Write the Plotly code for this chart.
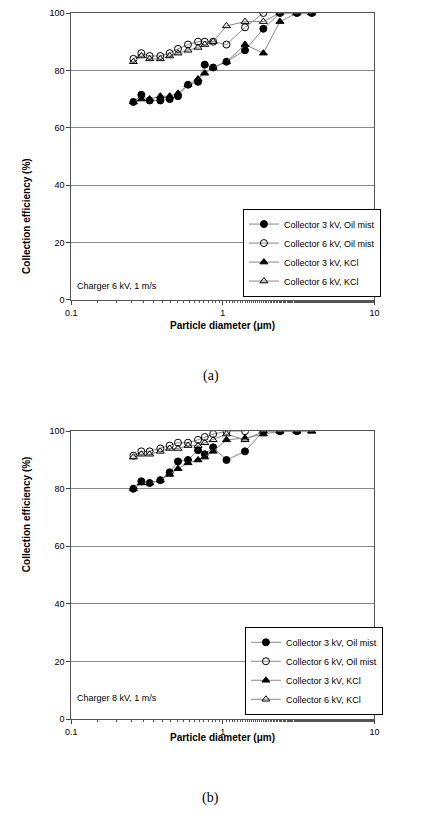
import plotly.graph_objects as go

d = [0.257,0.290,0.329,0.387,0.446,0.506,0.589,0.686,0.760,0.863,1.057,1.40,1.85,2.38,3.08,3.86]

a_oil3 = [69,71.5,69.5,69.5,70,71,75,76,82,81,83,87,94.5,100,100,100]
a_oil6 = [84,86,85,85,86,87.5,89,90,90,90,89,95,100]
a_kcl3 = [69,70,70,71,71,72,75,77,79,81,83,89,86,97,100,100]
a_kcl6 = [83,85,84,84,85,86,87,88,89,90,95.5,97,97,100,100,100]

b_oil3 = [80,82.6,82,83,85.7,89.5,90,93.4,92,94.4,90,93,100,100,100]
b_oil6 = [91.5,93,93,94,95,96,96,97,98,99,100,100]
b_kcl3 = [80,82,82,83,85,87,89,90,91,93,97,97.6,99,100,100,100]
b_kcl6 = [91,92,92,93,94,94,95,95,96,97,99,97,100,100,100,100]

names = ["Collector 3 kV, Oil mist","Collector 6 kV, Oil mist","Collector 3 kV, KCl","Collector 6 kV, KCl"]
syms = ["circle","circle-open","triangle-up","triangle-up-open"]
F = "Liberation Sans, Arial"

def px(t):
    return max(0, min(1, ((t - 15) / 0.97) / 422))
def py(t):
    return max(0, min(1, 1 - ((t - 12) / 0.985) / 824))

fig = go.Figure()
for ax, leg, data in [("", "legend", [a_oil3,a_oil6,a_kcl3,a_kcl6]),
                      ("2", "legend2", [b_oil3,b_oil6,b_kcl3,b_kcl6])]:
    for n, s, y in zip(names, syms, data):
        fig.add_trace(go.Scatter(x=d[:len(y)], y=y, name=n, mode="lines+markers",
            line=dict(color="#888", width=1),
            marker=dict(symbol=s, size=7, color="black", line=dict(color="black", width=1)),
            xaxis="x"+ax, yaxis="y"+ax, legend=leg))

xd = [px(72), px(374)]
common_x = dict(type="log", range=[-1,1], domain=xd, showgrid=False, showline=True, linecolor="#555",
                mirror=True, ticks="outside", tickvals=[0.1,1,10], ticktext=["0.1","1","10"],
                tickfont=dict(size=9, family=F, color="black"), ticklen=4,
                minor=dict(ticks="outside", ticklen=2, tickcolor="#555"))
common_y = dict(range=[0,100], dtick=20, showgrid=True, gridcolor="#888", showline=True, linecolor="#555",
                mirror=True, ticks="outside", ticklen=4, tickfont=dict(size=9, family=F, color="black"), zeroline=False)
leg = dict(bgcolor="white", bordercolor="black", borderwidth=1, font=dict(size=9, family=F, color="black"),
           xanchor="left", yanchor="top", tracegroupgap=0, itemwidth=30)
fig.update_layout(
    width=422, height=824, margin=dict(l=0, r=0, t=0, b=0), plot_bgcolor="white", paper_bgcolor="white",
    xaxis=dict(common_x, anchor="y"), yaxis=dict(common_y, domain=[py(298), py(12)], anchor="x"),
    xaxis2=dict(common_x, anchor="y2"), yaxis2=dict(common_y, domain=[py(716), py(429)], anchor="x2"),
    legend=dict(leg, x=px(243), y=py(207)),
    legend2=dict(leg, x=px(245), y=py(624)),
    showlegend=True,
)
ann = [
    (px(223), py(324), "<b>Particle diameter (\u03bcm)</b>", 0, 10),
    (px(223), py(742), "<b>Particle diameter (\u03bcm)</b>", 0, 10),
    (px(20), py(155), "<b>Collection efficiency (%)</b>", -90, 10),
    (px(20), py(572), "<b>Collection efficiency (%)</b>", -90, 10),
    (px(211), py(374), "(a)", 0, 14),
    (px(211), py(805), "(b)", 0, 14),
]
for x, y, t, r, s in ann:
    fig.add_annotation(x=x, y=y, xref="paper", yref="paper", text=t, textangle=r, showarrow=False,
                       font=dict(size=s, family=F if s < 12 else "Liberation Serif", color="black"))
fig.add_annotation(x=px(76), y=py(284), xref="paper", yref="paper", text="Charger 6 kV, 1 m/s",
                   showarrow=False, xanchor="left", font=dict(size=9, family=F, color="black"))
fig.add_annotation(x=px(76), y=py(702), xref="paper", yref="paper", text="Charger 8 kV, 1 m/s",
                   showarrow=False, xanchor="left", font=dict(size=9, family=F, color="black"))
fig.write_html("out.html")
